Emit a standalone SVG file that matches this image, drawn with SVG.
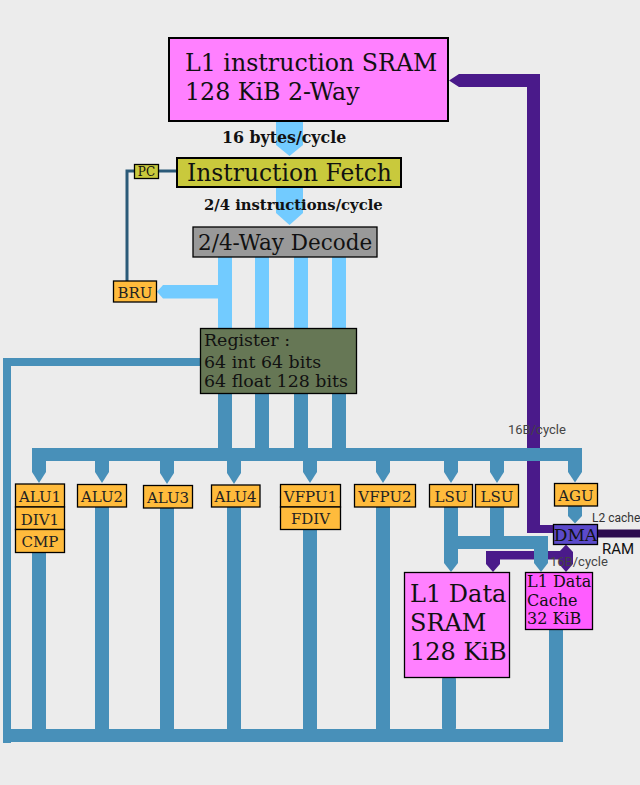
<svg xmlns="http://www.w3.org/2000/svg" width="640" height="785" viewBox="0 0 640 785">
<style>
.bg{fill:#ececec}
.lb{fill:#72cbff}
.bl{fill:#4890b9}
.pu{fill:#4a1a8a}
.dp{fill:#2d0b4f}
.ser{font-family:"DejaVu Serif","Liberation Serif",serif;fill:#111}
.san{font-family:Roboto,"DejaVu Sans",sans-serif}
.unit rect{fill:#ffbb3c;stroke:#000;stroke-width:1.3}
.unit text{font-family:"DejaVu Serif","Liberation Serif",serif;font-size:15px;fill:#222;text-anchor:middle}
.lbl{font-family:"DejaVu Serif","Liberation Serif",serif;font-weight:bold;fill:#111}
</style>
<rect class="bg" x="0" y="0" width="640" height="785"/>
<g id="connectors">
  <!-- purple paths -->
  <polygon class="pu" points="449,80.5 459,74 540,74 540,533 527,533 527,87 459,87"/>
  <rect class="pu" x="527" y="525" width="27" height="8"/>
  <rect class="dp" x="597" y="529.5" width="43" height="8"/>
  <rect class="pu" x="486" y="551" width="80" height="8.5"/>
  <polygon class="pu" points="486,551 500,551 500,564 493,572 486,564"/>
  <polygon class="pu" points="566,544.5 573,552 573,564 566,572 559,564 559,552"/>
  <!-- PC lines -->
  <path d="M158,171 H177 M134,171 H127 V281" fill="none" stroke="#2b5a78" stroke-width="3"/>
  <!-- light blue -->
  <polygon class="lb" points="276,121 303,121 303,145 289.5,156 276,145"/>
  <polygon class="lb" points="276,188 303,188 303,213 289.5,225 276,213"/>
  <rect class="lb" x="218" y="257" width="14" height="71"/>
  <rect class="lb" x="255" y="257" width="14" height="71"/>
  <rect class="lb" x="294" y="257" width="14" height="71"/>
  <rect class="lb" x="332" y="257" width="14" height="71"/>
  <polygon class="lb" points="218,285 218,298.5 163,298.5 157,291.75 163,285"/>
  <!-- blue -->
  <rect class="bl" x="3" y="358" width="198" height="8"/>
  <rect class="bl" x="3" y="358" width="8" height="385"/>
  <rect class="bl" x="218" y="393" width="14" height="56"/>
  <rect class="bl" x="255" y="393" width="14" height="56"/>
  <rect class="bl" x="294" y="393" width="14" height="56"/>
  <rect class="bl" x="332" y="393" width="14" height="56"/>
  <rect class="bl" x="32" y="448" width="550" height="13"/>
  <polygon class="bl" points="32,460 46,460 46,472 39,483 32,472"/>
  <polygon class="bl" points="95,460 109,460 109,472 102,483 95,472"/>
  <polygon class="bl" points="160,460 174,460 174,473 167,484 160,473"/>
  <polygon class="bl" points="227,460 241,460 241,473 234,484 227,473"/>
  <polygon class="bl" points="303,460 317,460 317,472 310,483 303,472"/>
  <polygon class="bl" points="376,460 390,460 390,472 383,483 376,472"/>
  <polygon class="bl" points="444,460 458,460 458,472 451,483 444,472"/>
  <polygon class="bl" points="490,460 504,460 504,472 497,483 490,472"/>
  <polygon class="bl" points="568,460 582,460 582,472 575,482.5 568,472"/>
  <polygon class="bl" points="568,506 582,506 582,516 575,523.5 568,516"/>
  <!-- unit verticals down -->
  <rect class="bl" x="32" y="552" width="14" height="178"/>
  <rect class="bl" x="95" y="506" width="14" height="224"/>
  <rect class="bl" x="160" y="507" width="14" height="223"/>
  <rect class="bl" x="227" y="506" width="14" height="224"/>
  <rect class="bl" x="303" y="529" width="14" height="201"/>
  <rect class="bl" x="376" y="506" width="14" height="224"/>
  <!-- LSU -->
  <polygon class="bl" points="444,506 458,506 458,563 451,572 444,563"/>
  <rect class="bl" x="490" y="506" width="14" height="31"/>
  <rect class="bl" x="444" y="536" width="104" height="13"/>
  <polygon class="bl" points="534,548 548,548 548,563 541,572 534,563"/>
  <!-- bottom -->
  <rect class="bl" x="442" y="677" width="14" height="53" rx="2"/>
  <rect class="bl" x="549" y="629" width="14" height="113"/>
  <rect class="bl" x="3" y="729" width="560" height="13"/>
</g>
<g id="sram">
  <rect x="169" y="38" width="279" height="83" fill="#ff80ff" stroke="#000" stroke-width="2"/>
  <text class="ser" x="185" y="71" font-size="23.7">L1 instruction SRAM</text>
  <text class="ser" x="185" y="100" font-size="23.7">128 KiB 2-Way</text>
</g>
<text class="lbl" x="222" y="143" font-size="15.8">16 bytes/cycle</text>
<g id="fetch">
  <rect x="177" y="158" width="224" height="29" fill="#c9c93c" stroke="#000" stroke-width="2"/>
  <text class="ser" x="187" y="181" font-size="23.4">Instruction Fetch</text>
</g>
<g id="pc">
  <rect x="134.5" y="164.5" width="24" height="14" fill="#c9c93c" stroke="#000" stroke-width="1.3"/>
  <text class="ser" x="146.5" y="176" font-size="12" text-anchor="middle" fill="#333">PC</text>
</g>
<text class="lbl" x="204" y="210" font-size="14.8">2/4 instructions/cycle</text>
<g id="decode">
  <rect x="193" y="227" width="184" height="30" fill="#999999" stroke="#000" stroke-width="1.3"/>
  <text class="ser" x="198" y="250" font-size="21.5">2/4-Way Decode</text>
</g>
<g id="bru" class="unit">
  <rect x="113.5" y="281" width="43" height="21"/>
  <text x="135" y="297.5">BRU</text>
</g>
<g id="register">
  <rect x="200.5" y="328.5" width="156" height="65" fill="#667755" stroke="#000" stroke-width="1.3"/>
  <text class="ser" x="204" y="346" font-size="17.4">Register :</text>
  <text class="ser" x="204" y="367.5" font-size="17.4">64 int 64 bits</text>
  <text class="ser" x="204" y="387" font-size="17.4">64 float 128 bits</text>
</g>
<g id="alu1" class="unit">
  <rect x="15.5" y="484" width="49" height="23"/>
  <text x="40" y="501.5">ALU1</text>
  <rect x="15.5" y="507" width="49" height="22.5"/>
  <text x="40" y="524.5">DIV1</text>
  <rect x="15.5" y="529.5" width="49" height="23"/>
  <text x="40" y="547">CMP</text>
</g>
<g id="alu2" class="unit">
  <rect x="77.5" y="484.5" width="49" height="22.5"/>
  <text x="102" y="501.5">ALU2</text>
</g>
<g id="alu3" class="unit">
  <rect x="143.5" y="485.5" width="49" height="22.5"/>
  <text x="168" y="502.5">ALU3</text>
</g>
<g id="alu4" class="unit">
  <rect x="211.5" y="485" width="48.5" height="22"/>
  <text x="235.5" y="502">ALU4</text>
</g>
<g id="vfpu1" class="unit">
  <rect x="280.5" y="484.5" width="60" height="22.5"/>
  <text x="310.5" y="501.5">VFPU1</text>
  <rect x="280.5" y="507" width="60" height="22.5"/>
  <text x="310.5" y="524">FDIV</text>
</g>
<g id="vfpu2" class="unit">
  <rect x="354.5" y="484.5" width="61" height="22.5"/>
  <text x="385" y="501.5">VFPU2</text>
</g>
<g id="lsu1" class="unit">
  <rect x="429.5" y="484.5" width="43" height="22.5"/>
  <text x="451" y="501.5">LSU</text>
</g>
<g id="lsu2" class="unit">
  <rect x="475.5" y="484.5" width="43" height="22.5"/>
  <text x="497" y="501.5">LSU</text>
</g>
<g id="agu" class="unit">
  <rect x="554.5" y="483.5" width="43" height="22.5"/>
  <text x="576" y="500.5">AGU</text>
</g>
<g id="dma">
  <rect x="553.5" y="524.5" width="44" height="20" fill="#5b4acb" stroke="#000" stroke-width="1.3"/>
  <text class="ser" x="575.5" y="541" font-size="17" text-anchor="middle" fill="#1a1030">DMA</text>
</g>
<g id="l1data">
  <rect x="404.5" y="572.5" width="105" height="105" fill="#ff80ff" stroke="#000" stroke-width="1.3"/>
  <text class="ser" x="410" y="601.5" font-size="24">L1 Data</text>
  <text class="ser" x="410" y="631" font-size="24">SRAM</text>
  <text class="ser" x="410" y="659.5" font-size="24">128 KiB</text>
</g>
<g id="l1cache">
  <rect x="525.5" y="572.5" width="67" height="57" fill="#ff5cff" stroke="#000" stroke-width="1.3"/>
  <text class="ser" x="527" y="587" font-size="16" fill="#3a1a3a">L1 Data</text>
  <text class="ser" x="527" y="605.5" font-size="16" fill="#3a1a3a">Cache</text>
  <text class="ser" x="527" y="624" font-size="16" fill="#3a1a3a">32 KiB</text>
</g>
<text class="san" x="508" y="434" font-size="13" fill="#444">16B/cycle</text>
<text class="san" x="550" y="566" font-size="13" fill="#444">16B/cycle</text>
<text class="san" x="592" y="522" font-size="12" fill="#333">L2 cache</text>
<text class="san" x="602" y="554" font-size="15" fill="#111">RAM</text>
</svg>
